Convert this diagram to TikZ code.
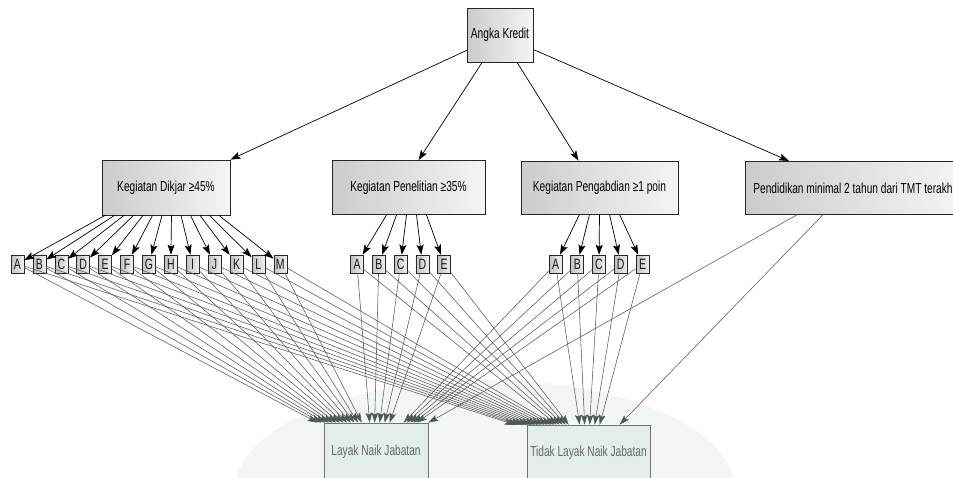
\documentclass[tikz,border=0pt]{standalone}
\usepackage{fontspec}
\setmainfont{Liberation Sans}[FakeStretch=0.70]
\usetikzlibrary{arrows.meta}
\definecolor{wm}{RGB}{242,247,244}
\definecolor{gfill}{RGB}{226,238,231}
\definecolor{ahead}{RGB}{77,90,84}
\begin{document}
\begin{tikzpicture}[x=1pt,y=-1pt,
  box/.style={draw=black!85, line width=0.8pt, left color=black!20, right color=black!4,
    font=\fontsize{14.5}{16}\selectfont, text=black, inner sep=0pt},
  lbox/.style={draw=black!85, line width=0.6pt, left color=black!24, right color=black!6,
    minimum width=13pt, minimum height=18pt, inner sep=0pt, font=\fontsize{15}{16}\selectfont, text=black!90},
  gbox/.style={draw=black!55, line width=0.7pt, fill=gfill, text=black!60,
    font=\fontsize{14.5}{16}\selectfont, inner sep=0pt},
  arr/.style={-{Stealth[length=10pt,width=7pt,inset=2pt]}, line width=0.7pt, black},
  farr/.style={-{Stealth[length=10pt,width=6.5pt,inset=2pt,fill=ahead,color=ahead]}, line width=0.55pt, draw=black!65}
]
\clip (0,0) rectangle (953,477);
\fill[white] (0,0) rectangle (953,477);
\fill[wm] (485,490) ellipse [x radius=250pt, y radius=110pt];

% top node
\node[box, minimum width=66pt, minimum height=54pt] (ak) at (500,35) {Angka Kredit};
% second row
\node[box, minimum width=128pt, minimum height=55pt] (dik) at (166,187.5) {Kegiatan Dikjar ≥45\%};
\node[box, minimum width=153pt, minimum height=54pt] (pen) at (408.5,187.5) {Kegiatan Penelitian ≥35\%};
\node[box, minimum width=157pt, minimum height=53pt] (pgb) at (599.5,187.5) {Kegiatan Pengabdian ≥1 poin};
\node[box, minimum height=53pt, inner xsep=8pt, anchor=north west] (pend) at (745,161) {Pendidikan minimal 2 tahun dari TMT terakhir};

\draw[arr] (ak) -- (dik.north east);
\draw[arr] (ak) -- ([xshift=10pt]pen.north);
\draw[arr] (ak) -- ([xshift=-21pt]pgb.north);
\draw[arr] (ak) -- ([xshift=44pt]pend.north west);

% letters
\foreach \l [count=\i from 0] in {A,B,C,D,E,F,G,H,I,J,K,L,M}
  \node[lbox] (d\i) at ({17.5+\i*21.9},264) {\l};
\foreach \l [count=\i from 0] in {A,B,C,D,E} {
  \node[lbox] (p\i) at ({357+\i*21.8},264) {\l};
  \node[lbox] (g\i) at ({555.5+\i*21.75},264) {\l};
}

\foreach \i in {0,...,12}
  \draw[arr] ([xshift=-61+\i*9.5]dik.south) -- (d\i);
\foreach \i in {0,...,4} {
  \draw[arr] ([xshift=-22+\i*10]pen.south) -- (p\i);
  \draw[arr] ([xshift=-20+\i*10]pgb.south) -- (g\i);
}

% bottom nodes
\node[gbox, minimum width=104pt, minimum height=58pt] (lay) at (376,452) {Layak Naik Jabatan};
\node[gbox, minimum width=123pt, minimum height=56pt] (tid) at (588.5,453) {Tidak Layak Naik Jabatan};

\foreach \i in {0,...,12} {
  \draw[farr] (d\i) -- ([xshift=-6+\i*3.67]lay.north west);
  \draw[farr] (d\i) -- ([xshift=-12+\i*3.3]tid.north west);
}
\foreach \i in {0,...,4} {
  \draw[farr] (p\i) -- ([xshift=46+\i*5]lay.north west);
  \draw[farr] (p\i) -- ([xshift=30+\i*3]tid.north west);
  \draw[farr] (g\i) -- ([xshift=80+\i*3.3]lay.north west);
  \draw[farr] (g\i) -- ([xshift=53+\i*5]tid.north west);
}
\draw[farr] ([xshift=52pt]pend.south west) -- (lay.north east);
\draw[farr] ([xshift=78pt]pend.south west) -- ([xshift=93pt]tid.north west);
\end{tikzpicture}
\end{document}
